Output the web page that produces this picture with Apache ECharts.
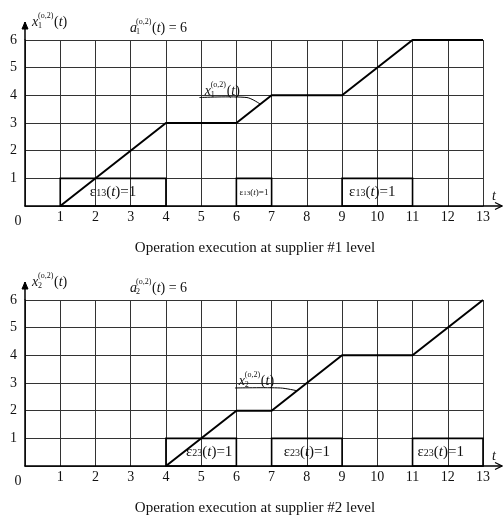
<!DOCTYPE html>
<html><head><meta charset="utf-8">
<script src="https://cdn.jsdelivr.net/npm/echarts@6/dist/echarts.min.js"></script>
<style>html,body{margin:0;padding:0;background:#fff}#c{width:503px;height:515px}</style>
</head><body><div id="c"></div>
<script>
// ---- data ----
const xTickValues = [0,1,2,3,4,5,6,7,8,9,10,11,12,13];
const yTickValues = [0,1,2,3,4,5,6];
const supplier1T = [1, 4, 6, 7, 9, 11, 13];
const supplier1X = [0, 3, 3, 4, 4, 6, 6];
const supplier2T = [4, 6, 7, 9, 11, 13];
const supplier2X = [0, 2, 2, 4, 4, 6];
const eps13Intervals = [[1, 4], [6, 7], [9, 11]];
const eps23Intervals = [[4, 6], [7, 9], [11, 13]];
const epsLevel = 1;
const planTarget = 6;
const title1 = 'Operation execution at supplier #1 level';
const title2 = 'Operation execution at supplier #2 level';

const SERIF = '"Liberation Serif","Times New Roman",serif';
const gridTops = [40, 300];
const GH = 166, GL = 25, GW = 458;
const epsLabelShift = [[0, 0, -5], [8, 0, -7]];

function pairs(a, b){ return a.map((v,i)=>[v,b[i]]); }

function axisPair(g){
  return {
    x: {
      type:'value', gridIndex:g, min:0, max:13, interval:1,
      axisLine:{show:true, onZero:false, lineStyle:{color:'#000', width:1.5}},
      axisTick:{show:false},
      splitLine:{show:true, lineStyle:{color:'#333', width:1}},
      axisLabel:{
        fontFamily:SERIF, fontSize:14, color:'#111', margin:4,
        customValues: xTickValues,
        formatter: v => v === 0 ? '{z|0}' : String(v),
        rich:{ z:{fontFamily:SERIF, fontSize:14, color:'#111', padding:[4,14,0,0]} }
      }
    },
    y: {
      type:'value', gridIndex:g, min:0, max:6, interval:1,
      axisLine:{show:true, onZero:false, lineStyle:{color:'#000', width:1.5}},
      axisTick:{show:false},
      splitLine:{show:true, lineStyle:{color:'#333', width:1}},
      axisLabel:{fontFamily:SERIF, fontSize:14, color:'#111', margin:8, showMinLabel:false}
    }
  };
}
const a0 = axisPair(0), a1 = axisPair(1);

function epsArea(g, intervals, sub){
  return intervals.map((iv, k) => {
    const small = (iv[1]-iv[0]) < 1.5;
    const fs = small ? 9 : 15;
    const fss = small ? 7 : 10;
    return [
      {xAxis: iv[0], yAxis: 0,
       label:{show:true, position:'inside', offset:[epsLabelShift[g][k], 0],
         formatter:'{e|ε}{s|'+sub+'}{n|(}{i|t}{n|)=1}',
         rich:{
           e:{fontFamily:SERIF, fontSize:fs, color:'#111'},
           s:{fontFamily:SERIF, fontSize:fss, color:'#111', padding:[small?1:3,0,0,0]},
           n:{fontFamily:SERIF, fontSize:fs, color:'#111'},
           i:{fontFamily:SERIF, fontSize:fs, fontStyle:'italic', color:'#111'}
         }}},
      {xAxis: iv[1], yAxis: epsLevel}
    ];
  });
}

function lineSeries(g, t, x, sub){
  return {
    type:'line', xAxisIndex:g, yAxisIndex:g, data: pairs(t, x),
    showSymbol:false, symbol:'none', animation:false,
    lineStyle:{color:'#000', width:2},
    z:5,
    markArea:{
      silent:true,
      itemStyle:{color:'rgba(0,0,0,0)', borderColor:'#000', borderWidth:1.6},
      data: epsArea(g, g===0?eps13Intervals:eps23Intervals, sub)
    }
  };
}

const option = {
  animation:false,
  backgroundColor:'#fff',
  grid:[
    {left:GL, top:gridTops[0], width:GW, height:GH},
    {left:GL, top:gridTops[1], width:GW, height:GH}
  ],
  xAxis:[a0.x, a1.x],
  yAxis:[a0.y, a1.y],
  series:[lineSeries(0, supplier1T, supplier1X, '13'), lineSeries(1, supplier2T, supplier2X, '23')]
};

const chart = echarts.init(document.getElementById('c'), null, {renderer:'canvas'});
chart.setOption(option);

function px(g, x, y){ return chart.convertToPixel({gridIndex:g}, [x, y]); }

function txt(x, y, text, font, align, rich){
  const st = {text:text, x:x, y:y, font:font, fill:'#111',
    textAlign:align||'left', align:align||'left',
    textVerticalAlign:'middle', verticalAlign:'middle'};
  if (rich) st.rich = rich;
  return {type:'text', z:100, silent:true, style:st};
}
const richTail = {
  n:{fontFamily:SERIF, fontSize:14, color:'#111'},
  i:{fontFamily:SERIF, fontSize:14, fontStyle:'italic', color:'#111'}
};
// variable symbol with stacked super/subscript
function sym(x0, cy, letter, sub, tail){
  return [
    txt(x0, cy, letter, 'italic 14px '+SERIF),
    txt(x0+6, cy-6, '(o,2)', '8px '+SERIF),
    txt(x0+6, cy+4, sub, '8px '+SERIF),
    txt(x0+22, cy, tail, '14px '+SERIF, 'left', richTail)
  ];
}

const elems = [];
[0,1].forEach(g => {
  const sub = String(g+1);
  const o = px(g, 0, 0), xe = px(g, 13, 0), yt = px(g, 0, 6);
  const xTip = xe[0] + 19, yTip = yt[1] - 18;
  elems.push({type:'line', silent:true, z:100, shape:{x1:xe[0], y1:o[1], x2:xTip, y2:o[1]}, style:{stroke:'#000', lineWidth:1.5}});
  elems.push({type:'polyline', silent:true, z:100, shape:{points:[[xTip-7,o[1]-3.5],[xTip,o[1]],[xTip-7,o[1]+3.5]]}, style:{stroke:'#000', lineWidth:1.2, fill:null}});
  elems.push({type:'line', silent:true, z:100, shape:{x1:o[0], y1:yt[1], x2:o[0], y2:yTip}, style:{stroke:'#000', lineWidth:1.5}});
  elems.push({type:'polygon', silent:true, z:100, shape:{points:[[o[0]-3,yTip+7],[o[0],yTip],[o[0]+3,yTip+7]]}, style:{fill:'#000', stroke:'#000', lineWidth:1}});
  elems.push(txt(xTip-8, o[1]-10, 't', 'italic 14px '+SERIF, 'center'));
  elems.push(...sym(o[0]+7, yt[1]-18, 'x', sub, '{n|(}{i|t}{n|)}'));
  elems.push(...sym(o[0]+105, yt[1]-12, 'a', sub, '{n|(}{i|t}{n|) = '+planTarget+'}'));
});
const ann = [
  {g:0, text:[5.1, 4.16], lead:[[4.95, 3.92],[6.3, 3.92],[6.68, 3.68]]},
  {g:1, text:[6.07, 3.07], lead:[[5.96, 2.82],[7.25, 2.82],[7.72, 2.72]]}
];
ann.forEach(a => {
  const p = px(a.g, a.text[0], a.text[1]);
  elems.push(...sym(p[0], p[1], 'x', String(a.g+1), '{n|(}{i|t}{n|)}'));
  const pts = a.lead.map(q => px(a.g, q[0], q[1]));
  elems.push({type:'polyline', silent:true, z:100, shape:{points:pts, smooth:0.3}, style:{stroke:'#000', lineWidth:1, fill:null}});
});
elems.push(txt(255, 248, title1, '15px '+SERIF, 'center'));
elems.push(txt(255, 508, title2, '15px '+SERIF, 'center'));

chart.setOption({graphic:{elements:elems}});
</script></body></html>
